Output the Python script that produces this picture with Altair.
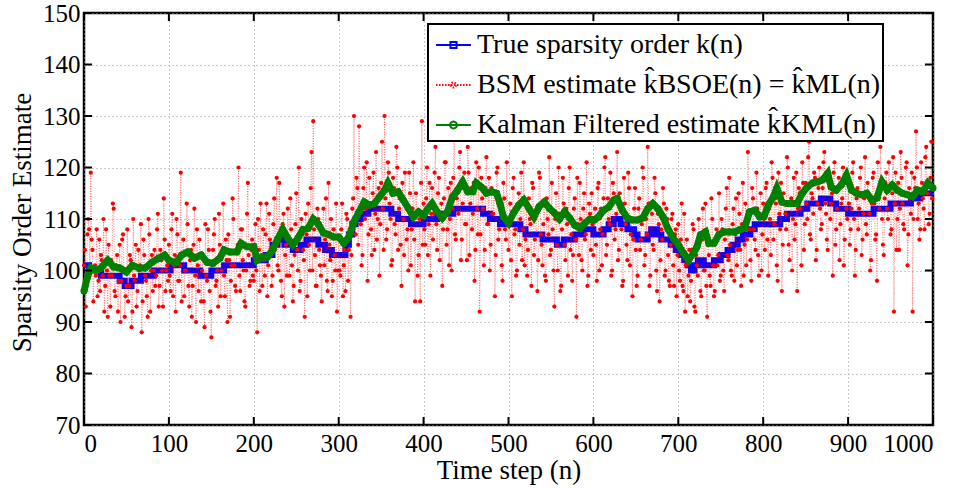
import altair as alt
import pandas as pd

# ---------------- data ----------------
x_ticks = [0, 100, 200, 300, 400, 500, 600, 700, 800, 900, 1000]
y_ticks = [70, 80, 90, 100, 110, 120, 130, 140, 150]

lab_true = "True sparsity order k(n)"
lab_bsm = "BSM estimate k\u0302BSOE(n) = k\u0302ML(n)"
lab_kal = "Kalman Filtered estimate k\u0302KML(n)"
series_names = [lab_true, lab_bsm, lab_kal]
series_colors = ["#0000ff", "#ff0000", "#008000"]

# true sparsity order: step function (start index, level)
true_start = [0, 6, 20, 42, 48, 56, 67, 82, 102, 118,
              137, 150, 165, 200, 214, 222, 228, 236, 246, 255,
              262, 276, 284, 292, 308, 312, 316, 320, 326, 335,
              362, 370, 385, 400, 416, 435, 470, 478, 490, 514,
              520, 540, 557, 565, 578, 588, 600, 612, 618, 624,
              632, 640, 648, 652, 664, 668, 675, 680, 691, 697,
              703, 707, 711, 715, 719, 723, 730, 742, 750, 758,
              764, 770, 776, 785, 790, 820, 828, 844, 852, 868,
              879, 886, 900, 930, 950, 974, 985]
true_level = [101, 100, 99, 98, 97, 98, 99, 100, 101, 100,
              99, 100, 101, 102, 103, 105, 106, 105, 104, 105,
              106, 105, 104, 103, 105, 107, 109, 110, 111, 112,
              111, 110, 109, 110, 111, 112, 111, 110, 109, 108,
              107, 106, 105, 106, 107, 108, 107, 108, 109, 110,
              109, 108, 107, 106, 107, 108, 107, 106, 105, 104,
              103, 102, 101, 100, 101, 102, 101, 102, 103, 104,
              105, 106, 107, 108, 109, 110, 111, 112, 113, 114,
              113, 112, 111, 112, 113, 114, 115]

# BSM estimates at even time steps n = 0, 2, ..., 998
red_even = [
    101, 93, 107, 108, 119, 104, 100, 99, 95, 106, 103, 99, 92, 108, 91, 99, 102, 113, 96, 101,
    92, 105, 98, 107, 91, 97, 94, 103, 89, 110, 98, 93, 104, 101, 88, 106, 99, 95, 110, 92,
    103, 100, 97, 108, 93, 104, 100, 114, 96, 101,
    105, 96, 111, 101, 92, 107, 98, 119, 103, 95, 100, 109, 93, 104, 97, 112, 90, 101, 106, 94,
    103, 89, 99, 108, 96, 87, 104, 110, 98, 93, 105, 100, 113, 95, 102, 107, 91, 101, 110, 97,
    104, 120, 96, 108, 100, 93, 111, 103, 98, 106,
    98, 109, 88, 104, 113, 97, 102, 107, 95, 111, 103, 99, 114, 106, 101, 117, 98, 109, 93, 105,
    112, 99, 108, 94, 103, 115, 100, 96, 110, 104, 91, 107, 113, 100, 123, 129, 103, 97, 110, 101,
    94, 112, 106, 98, 117, 102, 95, 108, 100, 92,
    106, 99, 113, 101, 96, 110, 104, 91, 112, 130, 107, 116, 128, 109, 103, 120, 112, 98, 118, 108,
    115, 104, 123, 110, 99, 117, 112, 130, 106, 121, 113, 101, 118, 109, 124, 104, 114, 97, 110, 119,
    106, 100, 115, 108, 121, 94, 111, 103, 94, 129,
    113, 105, 120, 109, 99, 116, 111, 124, 104, 118, 110, 97, 114, 121, 108, 101, 117, 112, 126, 106,
    115, 120, 102, 113, 119, 109, 124, 103, 116, 111, 98, 121, 107, 92, 118, 112, 104, 122, 109, 100,
    116, 111, 95, 119, 106, 113, 101, 117, 108, 121,
    104, 113, 95, 118, 108, 100, 115, 110, 102, 121, 106, 99, 114, 109, 117, 103, 111, 96, 119, 107,
    101, 113, 98, 110, 122, 104, 108, 93, 115, 100, 111, 97, 118, 105, 112, 99, 120, 107, 103, 114,
    91, 109, 117, 102, 112, 106, 121, 99, 111, 115,
    103, 112, 98, 117, 108, 101, 114, 122, 105, 110, 119, 100, 115, 108, 123, 104, 113, 97, 118, 109,
    102, 116, 107, 95, 112, 104, 99, 114, 106, 120, 101, 110, 124, 97, 113, 105, 118, 100, 111, 94,
    108, 116, 99, 112, 103, 97, 110, 101, 107, 95,
    109, 98, 113, 96, 92, 106, 99, 94, 104, 108, 92, 101, 110, 96, 106, 100, 113, 91, 103, 97,
    110, 95, 106, 101, 115, 99, 108, 96, 112, 103, 118, 100, 109, 98, 114, 104, 111, 97, 117, 105,
    101, 123, 108, 98, 114, 106, 119, 103, 111, 100,
    113, 104, 117, 99, 110, 121, 106, 114, 101, 119, 108, 96, 115, 111, 122, 105, 113, 100, 118, 109,
    96, 116, 112, 121, 104, 117, 110, 125, 106, 114, 119, 102, 113, 120, 108, 116, 123, 111, 104, 118,
    113, 99, 121, 108, 116, 102, 113, 120, 106, 112,
    117, 105, 112, 121, 99, 114, 108, 118, 103, 111, 122, 107, 115, 100, 113, 119, 106, 98, 114, 124,
    110, 103, 117, 112, 121, 107, 115, 92, 119, 110, 104, 123, 113, 108, 120, 101, 116, 111, 92, 118,
    127, 110, 106, 121, 114, 108, 124, 117, 111, 125,
]
# BSM estimates at odd time steps n = 1, 3, ..., 999
red_odd = [
    104, 97, 110, 100, 106, 94, 101, 108, 98, 96, 102, 110, 97, 100, 105, 93, 99, 112, 95, 103,
    98, 90, 106, 100, 95, 108, 97, 102, 92, 99, 105, 96, 100, 109, 94, 103, 98, 91, 107, 100,
    96, 104, 99, 111, 97, 102, 93, 106, 100, 98,
    99, 108, 95, 103, 110, 98, 101, 94, 106, 100, 113, 97, 102, 91, 105, 99, 108, 96, 103, 100,
    94, 109, 98, 104, 92, 101, 107, 97, 100, 111, 95, 103, 99, 106, 90, 102, 98, 114, 101, 96,
    105, 99, 108, 102, 94, 100, 117, 97, 104, 99,
    105, 100, 110, 96, 103, 108, 99, 113, 101, 106, 97, 109, 104, 118, 100, 107, 95, 111, 103, 99,
    106, 114, 101, 97, 109, 104, 120, 98, 107, 102, 111, 95, 105, 116, 100, 108, 97, 112, 104, 99,
    107, 101, 114, 96, 105, 110, 98, 103, 113, 100,
    100, 108, 95, 104, 111, 98, 107, 103, 114, 109, 118, 105, 112, 101, 116, 110, 121, 107, 113, 103,
    119, 111, 106, 116, 109, 125, 104, 114, 108, 119, 110, 102, 116, 107, 120, 112, 105, 117, 103, 113,
    108, 119, 101, 112, 106, 115, 99, 110, 117, 105,
    108, 114, 103, 117, 111, 106, 119, 109, 115, 102, 113, 108, 121, 105, 116, 110, 100, 118, 107, 114,
    111, 123, 106, 116, 109, 102, 119, 113, 108, 117, 104, 112, 120, 107, 114, 101, 116, 109, 118, 105,
    111, 115, 103, 120, 108, 112, 98, 114, 106, 110,
    110, 102, 116, 107, 99, 112, 105, 119, 108, 101, 113, 104, 110, 97, 116, 106, 111, 102, 118, 105,
    109, 99, 114, 107, 103, 117, 100, 110, 105, 120, 96, 108, 113, 102, 109, 116, 104, 98, 112, 106,
    118, 103, 110, 100, 115, 107, 97, 113, 104, 109,
    110, 105, 116, 100, 112, 107, 120, 103, 114, 109, 99, 117, 106, 111, 102, 115, 108, 98, 113, 105,
    119, 101, 110, 106, 116, 97, 112, 104, 109, 118, 103, 107, 113, 99, 111, 104, 115, 96, 109, 102,
    106, 113, 100, 110, 98, 105, 111, 97, 108, 103,
    100, 106, 97, 111, 101, 95, 104, 98, 109, 93, 103, 99, 107, 95, 112, 100, 97, 105, 99, 114,
    101, 96, 108, 103, 98, 110, 100, 106, 116, 102, 105, 99, 112, 107, 101, 115, 104, 109, 99, 113,
    106, 110, 102, 116, 108, 104, 112, 99, 115, 107,
    110, 116, 106, 112, 103, 118, 109, 113, 98, 111, 117, 105, 113, 108, 120, 102, 114, 110, 106, 119,
    112, 115, 101, 117, 109, 113, 122, 107, 115, 111, 118, 104, 116, 112, 109, 121, 113, 106, 117, 110,
    115, 119, 105, 112, 118, 109, 114, 101, 117, 110,
    113, 108, 119, 110, 104, 116, 112, 120, 106, 114, 109, 117, 111, 102, 118, 113, 107, 121, 112, 116,
    105, 114, 119, 110, 116, 108, 122, 113, 104, 117, 112, 118, 109, 115, 121, 107, 114, 119, 110, 116,
    120, 113, 108, 117, 112, 122, 115, 109, 118, 114,
]

# Kalman filtered estimate
kal_n = [0, 4, 8, 15, 20, 28, 35, 42, 50, 57,
         65, 72, 80, 88, 95, 100, 108, 115, 122, 130,
         138, 145, 152, 160, 165, 172, 180, 185, 192, 200,
         204, 210, 216, 222, 228, 234, 240, 246, 252, 258,
         264, 270, 276, 282, 288, 294, 300, 306, 312, 318,
         324, 330, 336, 342, 348, 354, 358, 364, 370, 376,
         382, 388, 394, 400, 405, 410, 416, 422, 428, 434,
         440, 446, 452, 458, 462, 468, 474, 480, 486, 490,
         494, 500, 506, 512, 518, 524, 530, 536, 542, 548,
         554, 560, 566, 572, 578, 584, 590, 596, 601, 606,
         612, 618, 624, 628, 634, 640, 646, 652, 658, 664,
         670, 676, 682, 688, 694, 700, 706, 712, 718, 722,
         726, 732, 736, 742, 748, 754, 760, 766, 772, 778,
         784, 790, 796, 801, 806, 812, 816, 822, 828, 834,
         840, 846, 852, 858, 864, 870, 876, 880, 886, 892,
         898, 904, 910, 916, 922, 928, 934, 940, 946, 952,
         958, 964, 970, 976, 982, 988, 994, 1000]
kal_v = [96.0, 98.7, 100.5, 100.0, 100.5, 102.0, 100.7, 100.5, 99.7, 101.0,
         100.5, 100.5, 101.6, 102.4, 103.0, 102.0, 101.5, 103.0, 103.6, 102.4,
         103.0, 101.6, 101.4, 102.4, 104.0, 103.6, 103.6, 105.3, 104.6, 104.6,
         102.0, 102.6, 102.6, 104.0, 106.0, 108.0, 106.3, 105.0, 106.3, 108.0,
         108.2, 110.0, 109.0, 107.3, 107.0, 106.5, 106.5, 105.3, 106.5, 109.5,
         111.4, 113.3, 112.7, 113.0, 114.3, 115.6, 117.0, 115.0, 115.3, 113.7,
         112.1, 110.4, 111.4, 110.7, 112.0, 113.0, 111.4, 110.2, 111.4, 114.3,
         115.6, 117.2, 115.3, 115.3, 117.0, 116.2, 115.0, 115.3, 115.0, 113.0,
         110.4, 109.2, 111.2, 112.7, 113.7, 112.1, 110.4, 112.4, 113.3, 112.1,
         111.2, 110.0, 111.4, 110.2, 108.8, 108.2, 109.2, 110.0, 109.8, 110.4,
         111.7, 112.3, 113.7, 114.0, 111.7, 110.2, 109.8, 109.8, 110.2, 112.0,
         113.0, 112.0, 110.4, 108.0, 106.3, 105.0, 103.4, 102.0, 103.4, 104.6,
         106.9, 107.5, 105.3, 105.3, 107.0, 107.5, 107.5, 107.5, 107.9, 108.2,
         111.4, 111.7, 110.4, 110.5, 112.7, 114.3, 116.0, 113.3, 113.0, 113.0,
         113.0, 115.0, 116.2, 117.0, 117.2, 117.6, 118.9, 116.2, 115.6, 116.6,
         118.5, 115.6, 115.0, 114.7, 115.0, 113.7, 114.1, 117.2, 115.6, 116.6,
         115.6, 115.0, 114.7, 114.3, 115.6, 115.3, 117.0, 116.0]

# ---------------- tables ----------------
W, H = 849, 412
FONT = "Liberation Serif"

df_true = pd.DataFrame({"n": true_start + [1000],
                        "k": true_level + [true_level[-1]]})
df_red = pd.concat([
    pd.DataFrame({"n": list(range(0, 2 * len(red_even), 2)), "k": red_even}),
    pd.DataFrame({"n": list(range(1, 2 * len(red_odd), 2)), "k": red_odd}),
]).sort_values("n").reset_index(drop=True)
df_kal = pd.DataFrame({"n": kal_n, "k": kal_v})
df_leg = pd.DataFrame({"series": series_names})
df_xt = pd.DataFrame({"n": x_ticks})
df_yt = pd.DataFrame({"k": y_ticks})

xs = alt.Scale(domain=[0, 1000], nice=False, zero=False)
ys = alt.Scale(domain=[70, 150], nice=False, zero=False)

x_axis = alt.Axis(values=x_ticks, format="d", title="Time step (n)", grid=True,
                  ticks=False, domain=False, labelPadding=6,
                  titleBaseline="alphabetic", titleY=53, titleX=W / 2)
y_axis = alt.Axis(values=y_ticks, format="d", title="Sparsity Order Estimate",
                  grid=True, ticks=False, domain=False, labelPadding=4,
                  titleBaseline="alphabetic", titleX=-54, titleY=H / 2 + 3)

X = alt.X("n:Q", scale=xs, axis=x_axis)
Y = alt.Y("k:Q", scale=ys, axis=y_axis)

legend = alt.Legend(
    title=None, orient="none", legendX=344, legendY=11,
    padding=2, rowPadding=7, labelOffset=9,
    labelFont=FONT, labelFontSize=28, labelLimit=800, labelColor="black",
    symbolSize=1296, symbolStrokeWidth=2, strokeColor="black", fillColor="white",
)
sym_paths = [
    "M-0.72,0H1.22M0.08,-0.17H0.42V0.17H0.08Z",
    "M-0.72,0H1.22M0.11,0A0.14,0.14 0 1,0 0.39,0A0.14,0.14 0 1,0 0.11,0Z",
    "M-0.72,0H1.22M0.06,0A0.19,0.19 0 1,0 0.44,0A0.19,0.19 0 1,0 0.06,0Z",
]

blue = alt.Chart(df_true).mark_line(interpolate="step-after", strokeWidth=6,
                                    color=series_colors[0]).encode(x=X, y=Y)
red_line = alt.Chart(df_red).mark_line(strokeWidth=0.9, strokeDash=[1, 1.5], opacity=0.55,
                                       color=series_colors[1]).encode(x=X, y=Y)
red_pts = alt.Chart(df_red).mark_circle(size=18, opacity=1,
                                        color=series_colors[1]).encode(x=X, y=Y)
green_line = alt.Chart(df_kal).mark_line(strokeWidth=7, color=series_colors[2]).encode(x=X, y=Y)
green_pts = alt.Chart(df_kal).mark_circle(size=50, opacity=1,
                                          color=series_colors[2]).encode(x=X, y=Y)

# legend-only layer (placed outside the canvas, it only drives the legend)
leg_layer = alt.Chart(df_leg).mark_point(filled=False, size=1296, strokeWidth=2, opacity=1).encode(
    x=alt.value(-300), y=alt.value(-300),
    color=alt.Color("series:N", scale=alt.Scale(domain=series_names, range=series_colors),
                    legend=legend),
    shape=alt.Shape("series:N", scale=alt.Scale(domain=series_names, range=sym_paths),
                    legend=legend),
    strokeDash=alt.StrokeDash("series:N",
                              scale=alt.Scale(domain=series_names,
                                              range=[[1, 0], [1.5, 1.5], [1, 0]]),
                              legend=legend),
)

tick_b = alt.Chart(df_xt).mark_rule(color="black", strokeWidth=2).encode(
    x=X, y=alt.value(H), y2=alt.value(H - 8))
tick_t = alt.Chart(df_xt).mark_rule(color="black", strokeWidth=2).encode(
    x=X, y=alt.value(0), y2=alt.value(8))
tick_l = alt.Chart(df_yt).mark_rule(color="black", strokeWidth=2).encode(
    y=Y, x=alt.value(0), x2=alt.value(8))
tick_r = alt.Chart(df_yt).mark_rule(color="black", strokeWidth=2).encode(
    y=Y, x=alt.value(W), x2=alt.value(W - 8))

chart = alt.layer(leg_layer, blue, red_line, red_pts, green_line, green_pts,
                  tick_b, tick_t, tick_l, tick_r).properties(
    width=W, height=H,
    autosize=alt.AutoSizeParams(type="none"),
    padding={"left": 84, "top": 13, "right": 36, "bottom": 64},
    background="white",
).configure_view(
    stroke="black", strokeWidth=2.5
).configure_axis(
    labelFont=FONT, titleFont=FONT, labelFontSize=25, titleFontSize=27,
    titleFontWeight="normal", labelColor="black", titleColor="black",
    gridColor="#9a9a9a", gridDash=[1, 3], gridWidth=1,
).configure_legend(
    strokeWidth=2
)

chart.save("out.html", embed_options={"renderer": "svg", "actions": False})
